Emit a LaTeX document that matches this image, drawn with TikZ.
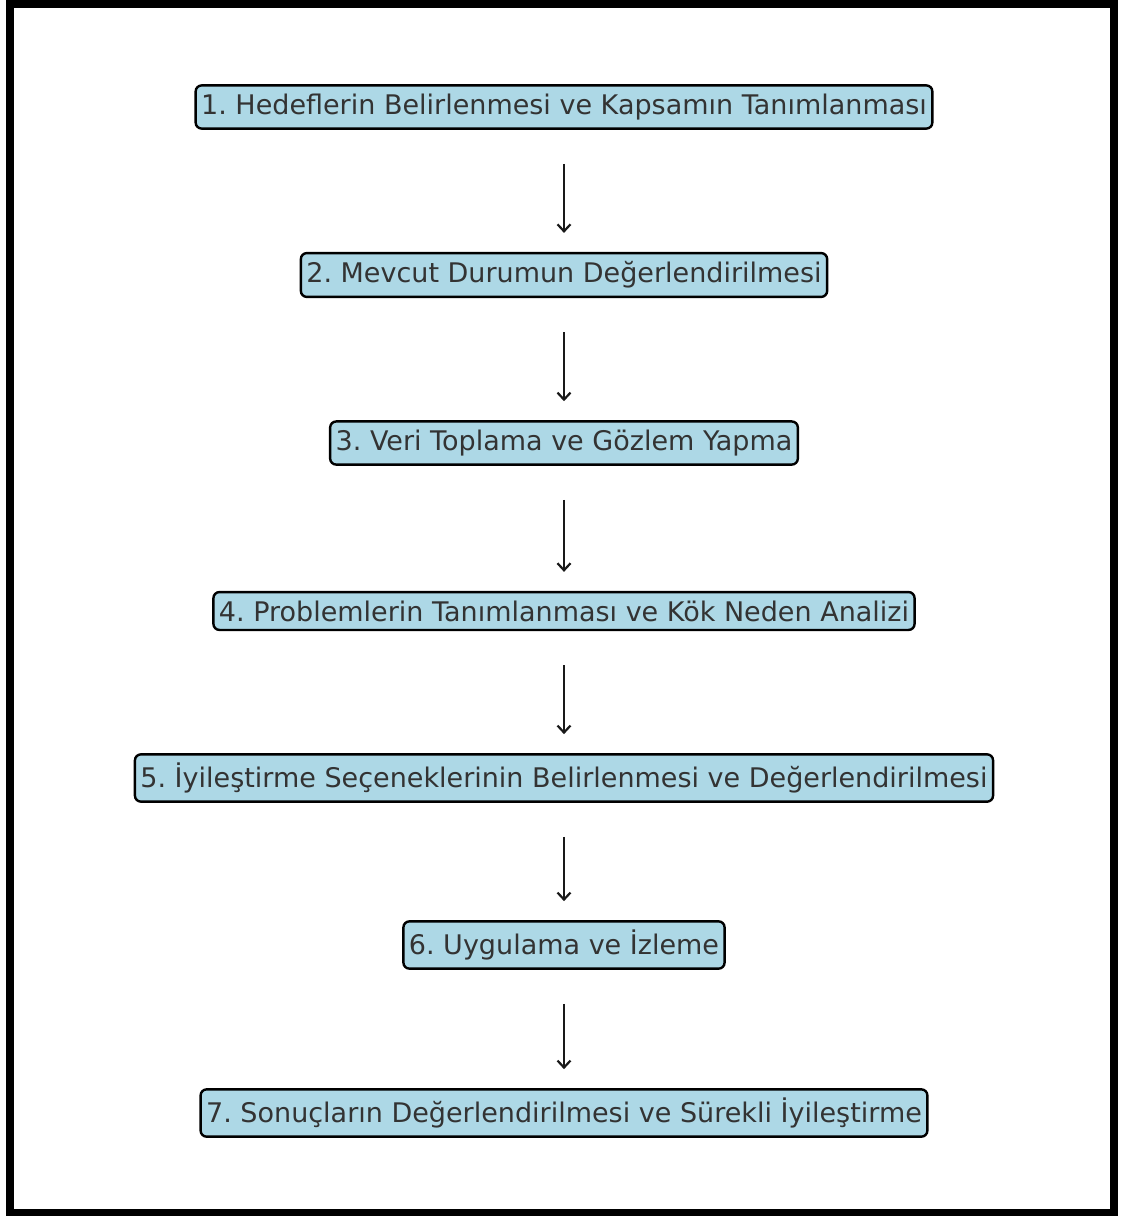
\documentclass[tikz,border=0pt]{standalone}
\usepackage{fontspec}
\setmainfont{DejaVu Sans}
\usetikzlibrary{arrows.meta}
\definecolor{stepfill}{HTML}{ADD8E6}
\definecolor{steptext}{HTML}{333333}
\tikzset{
  stepbox/.style={draw=black, line width=2.4pt, fill=stepfill, rounded corners=6pt,
    inner xsep=5.5pt, inner ysep=8.5pt, text=steptext,
    font=\fontsize{27pt}{32pt}\selectfont\frenchspacing},
  flow/.style={line width=2.2pt, draw=black!90,
    -{Straight Barb[length=7pt,width=13pt,line width=2.2pt]},
    shorten <=34pt, shorten >=19pt}
}
\begin{document}
\begin{tikzpicture}[x=1pt,y=-1pt]
  \useasboundingbox (0,0) rectangle (1124,1216);
  \fill[white] (0,0) rectangle (1124,1216);
  % outer frame
  \draw[line width=8pt, black] (9.5,4) rectangle (1114,1213);

  \node[stepbox] (s1) at (564,107) {1. Hedeflerin Belirlenmesi ve Kapsamın Tanımlanması};
  \node[stepbox] (s2) at (564,275) {2. Mevcut Durumun Değerlendirilmesi};
  \node[stepbox] (s3) at (564,443) {3. Veri Toplama ve Gözlem Yapma};
  \node[stepbox] (s4) at (564,611) {4. Problemlerin Tanımlanması ve Kök Neden Analizi};
  \node[stepbox] (s5) at (564,778) {5. İyileştirme Seçeneklerinin Belirlenmesi ve Değerlendirilmesi};
  \node[stepbox] (s6) at (564,945) {6. Uygulama ve İzleme};
  \node[stepbox] (s7) at (564,1113) {7. Sonuçların Değerlendirilmesi ve Sürekli İyileştirme};

  \draw[flow] (s1) -- (s2);
  \draw[flow] (s2) -- (s3);
  \draw[flow] (s3) -- (s4);
  \draw[flow] (s4) -- (s5);
  \draw[flow] (s5) -- (s6);
  \draw[flow] (s6) -- (s7);
\end{tikzpicture}
\end{document}
